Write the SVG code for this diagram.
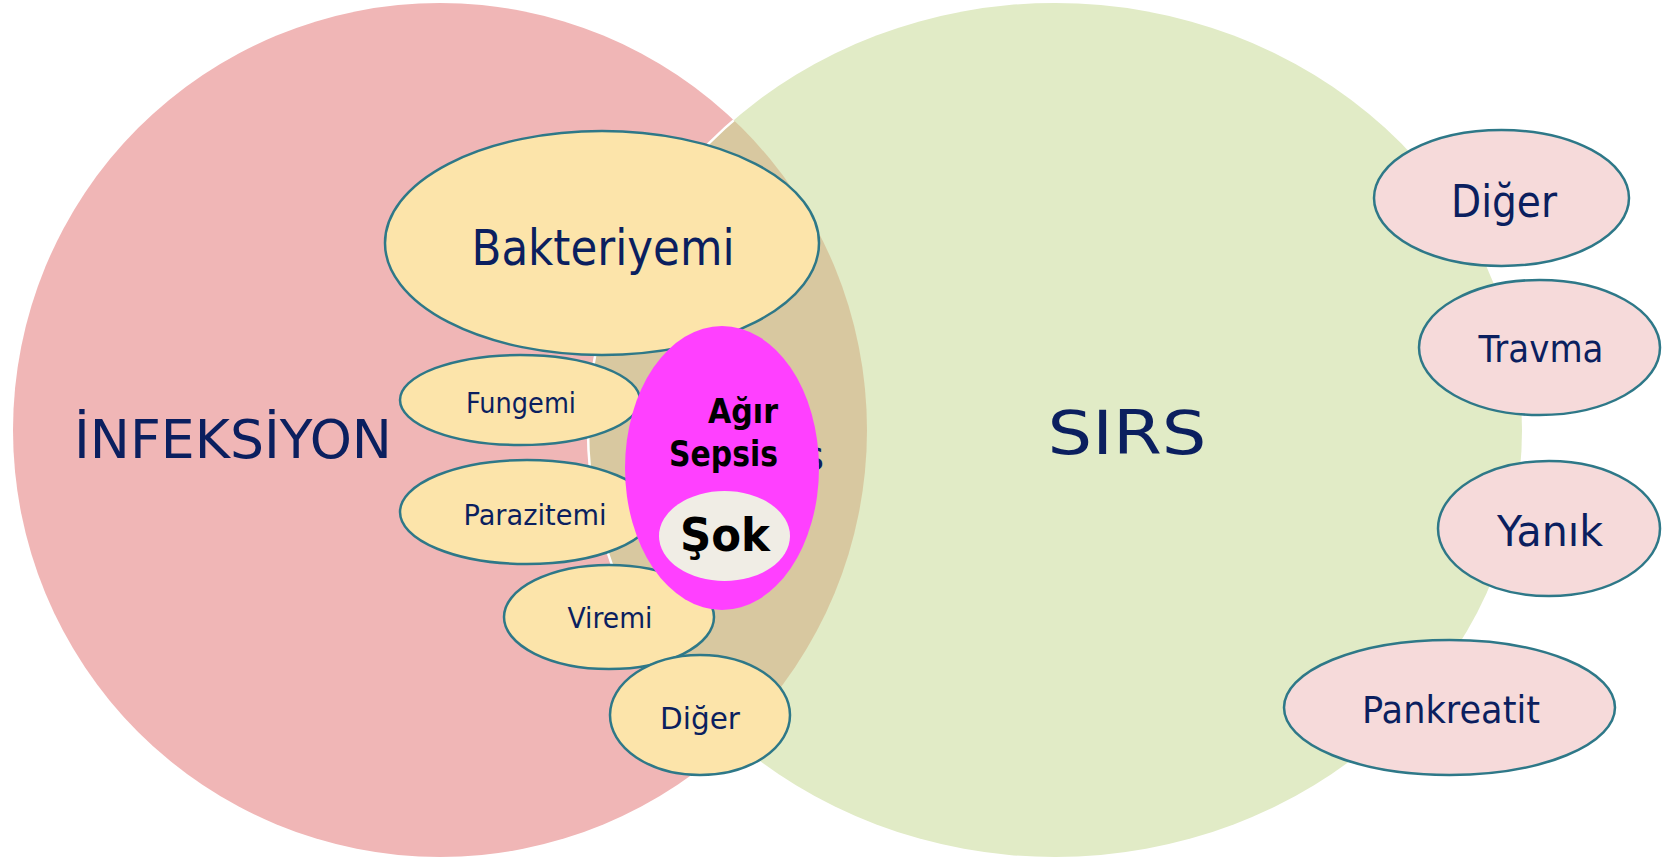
<svg xmlns="http://www.w3.org/2000/svg" width="1662" height="859" viewBox="0 0 1662 859">
<style>
.lbl{font-family:"DejaVu Sans","Liberation Sans",sans-serif;fill:#0B1F5F;text-anchor:middle}
.blk{font-family:"DejaVu Sans","Liberation Sans",sans-serif;font-weight:bold;fill:#000}
.inf{fill:#FCE4AA;stroke:#2E7888;stroke-width:2.5}
.sir{fill:#F6DADA;stroke:#2E7888;stroke-width:2.5}
</style>
<defs>
<clipPath id="pinkClip"><ellipse cx="440" cy="430" rx="427" ry="427"/></clipPath>
</defs>
<g id="venn">
<ellipse id="infeksiyon-set" cx="440" cy="430" rx="427" ry="427" fill="#F0B6B6"/>
<ellipse id="sirs-set" cx="1055" cy="430" rx="467" ry="427" fill="#E1EBC6"/>
<ellipse cx="1055" cy="430" rx="467" ry="427" fill="#D8C8A0" clip-path="url(#pinkClip)"/>
<ellipse cx="1055" cy="430" rx="467" ry="427" fill="none" stroke="#FFFFFF" stroke-width="2.5" clip-path="url(#pinkClip)"/>
<text class="lbl" x="233" y="458" font-size="54" textLength="318" lengthAdjust="spacingAndGlyphs">İNFEKSİYON</text>
<text class="lbl" x="1127" y="454" font-size="60" textLength="159" lengthAdjust="spacingAndGlyphs">SIRS</text>
<text class="lbl" x="824" y="470" font-size="40" style="text-anchor:end">Sepsis</text>
</g>
<g id="node-bakteriyemi">
<ellipse class="inf" cx="602" cy="243" rx="217" ry="112"/>
<text class="lbl" x="603" y="265" font-size="50" textLength="263" lengthAdjust="spacingAndGlyphs">Bakteriyemi</text>
</g>
<g id="node-fungemi">
<ellipse class="inf" cx="520" cy="400" rx="120" ry="45"/>
<text class="lbl" x="521" y="413" font-size="28" textLength="110" lengthAdjust="spacingAndGlyphs">Fungemi</text>
</g>
<g id="node-parazitemi">
<ellipse class="inf" cx="527" cy="512" rx="127" ry="52"/>
<text class="lbl" x="535" y="525" font-size="29" textLength="143" lengthAdjust="spacingAndGlyphs">Parazitemi</text>
</g>
<g id="node-viremi">
<ellipse class="inf" cx="609" cy="617" rx="105" ry="52"/>
<text class="lbl" x="610" y="628" font-size="28" textLength="85" lengthAdjust="spacingAndGlyphs">Viremi</text>
</g>
<g id="node-diger-inf">
<ellipse class="inf" cx="700" cy="715" rx="90" ry="60"/>
<text class="lbl" x="700" y="729" font-size="31" textLength="80" lengthAdjust="spacingAndGlyphs">Diğer</text>
</g>
<g id="node-agir-sepsis">
<ellipse cx="722" cy="468" rx="97" ry="142" fill="#FF40FF"/>
<text class="blk" x="778" y="423" font-size="34" text-anchor="end" textLength="70" lengthAdjust="spacingAndGlyphs">Ağır</text>
<text class="blk" x="778" y="466" font-size="35" text-anchor="end" textLength="109" lengthAdjust="spacingAndGlyphs">Sepsis</text>
</g>
<g id="node-sok">
<ellipse cx="724.5" cy="536" rx="65.5" ry="45" fill="#F0EDE5"/>
<text class="blk" x="725" y="551" font-size="46" text-anchor="middle" textLength="90" lengthAdjust="spacingAndGlyphs">Şok</text>
</g>
<g id="node-diger-sirs">
<ellipse class="sir" cx="1501.5" cy="198" rx="127.5" ry="68"/>
<text class="lbl" x="1504" y="217" font-size="44" textLength="106" lengthAdjust="spacingAndGlyphs">Diğer</text>
</g>
<g id="node-travma">
<ellipse class="sir" cx="1539.5" cy="347.5" rx="120.5" ry="67.5"/>
<text class="lbl" x="1541" y="362" font-size="37" textLength="125" lengthAdjust="spacingAndGlyphs">Travma</text>
</g>
<g id="node-yanik">
<ellipse class="sir" cx="1549" cy="528.5" rx="111" ry="67.5"/>
<text class="lbl" x="1550" y="546" font-size="43" textLength="106" lengthAdjust="spacingAndGlyphs">Yanık</text>
</g>
<g id="node-pankreatit">
<ellipse class="sir" cx="1449.5" cy="707.5" rx="165.5" ry="67.5"/>
<text class="lbl" x="1451" y="723" font-size="37" textLength="178" lengthAdjust="spacingAndGlyphs">Pankreatit</text>
</g>
<g id="connectors"></g>
</svg>
